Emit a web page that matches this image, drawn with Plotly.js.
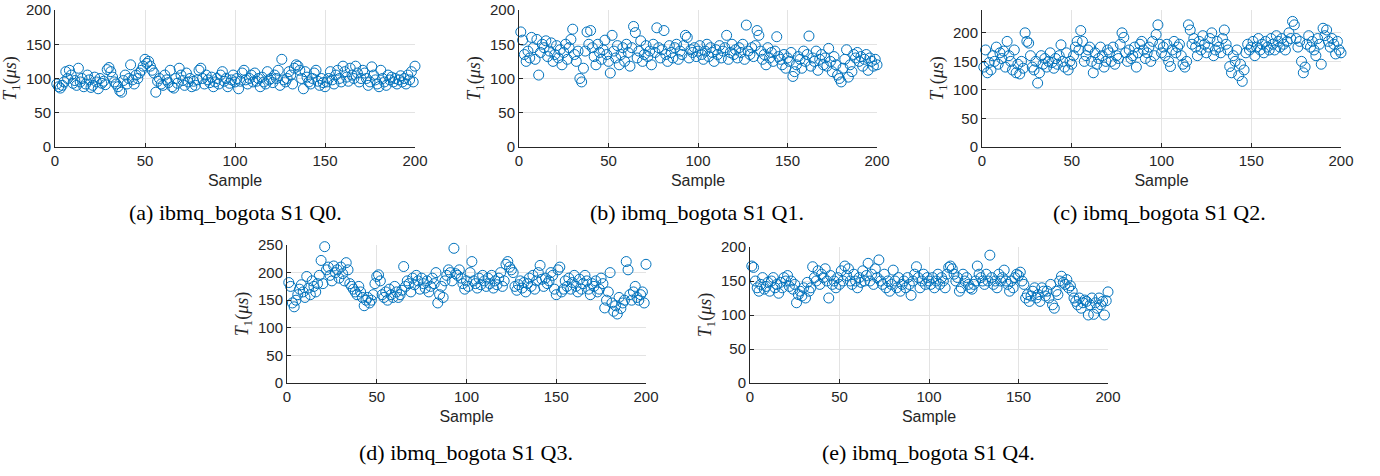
<!DOCTYPE html>
<html>
<head>
<meta charset="utf-8">
<script src="https://cdn.plot.ly/plotly-3.0.1.min.js"></script>
<style>html,body{margin:0;padding:0;background:#fff;}#chart{width:1380px;height:476px;}</style>
</head>
<body>
<div id="chart"></div>
<script>
// ---- data (T1 in microseconds, samples 1..200) ----
const q0 = [92,88,86,90,95,110,100,112,105,93, 97,90,115,95,100,88,92,105,98,87,
  90,102,95,85,100,93,96,91,113,116, 110,102,95,92,88,82,80,97,105,92,
  100,120,98,92,105,100,108,112,118,128, 122,125,118,112,108,80,96,100,92,90,
  105,98,94,112,88,86,100,93,115,105, 97,90,108,95,100,88,96,90,98,112,
  115,100,92,105,98,94,102,88,95,100, 92,105,110,96,100,88,93,98,105,95,
  100,85,96,108,112,98,92,100,105,95, 108,96,100,88,102,95,92,110,98,100,
  94,105,100,112,90,128,98,95,100,110, 105,92,115,120,118,112,100,85,110,102,
  95,92,100,108,112,96,90,100,94,88, 95,100,110,98,92,105,112,100,95,118,
  110,102,96,115,105,100,118,108,95,100, 112,108,100,90,95,117,105,98,92,88,
  112,100,95,90,105,98,102,95,100,92, 98,104,95,100,92,105,98,110,95,118];
const q1 = [168,156,135,125,140,130,160,145,128,157, 105,138,150,145,155,132,140,152,125,135,
  148,130,142,120,138,150,128,145,157,172, 135,125,140,100,95,115,140,168,150,170,
  145,132,120,150,138,128,142,156,135,125, 108,163,140,130,148,120,135,145,125,150,
  138,118,145,176,167,130,140,155,125,135, 148,132,140,120,150,138,174,145,130,142,
  170,135,125,148,138,130,145,150,128,140, 135,148,163,160,130,142,138,145,132,140,
  148,135,128,140,150,132,145,138,125,142, 135,148,130,140,145,163,128,138,150,135,
  142,130,145,138,150,128,178,140,135,145, 132,148,170,163,140,128,135,120,145,130,
  138,125,140,161,132,128,120,135,115,130, 125,138,103,110,120,132,128,115,140,125,
  135,162,118,130,125,140,112,128,135,120, 130,118,144,125,110,132,120,105,100,95,
  115,128,142,102,120,110,135,130,138,125, 132,118,128,135,112,130,125,118,128,120];
const q2 = [140,170,130,148,135,160,150,175,145,165, 155,168,140,185,160,150,135,170,130,145,
  128,150,138,200,185,182,160,140,135,150, 112,130,160,145,155,140,150,165,148,138,
  155,145,160,179,150,140,165,135,150,145, 160,175,185,170,204,185,150,160,170,175,
  150,130,165,145,155,175,160,140,150,170, 165,150,175,145,160,155,180,200,192,165,
  150,170,155,160,175,140,165,180,185,170, 155,165,175,150,185,160,197,214,180,165,
  175,160,180,150,141,170,185,165,175,180, 160,145,140,150,214,205,180,190,175,160,
  185,170,195,180,165,175,190,200,160,170, 185,175,165,190,205,180,170,141,130,160,
  150,170,125,145,115,135,165,180,170,175, 185,160,175,190,170,180,165,185,175,170,
  190,180,170,195,185,175,190,180,170,185, 200,190,220,214,190,175,185,150,130,140,
  180,195,175,185,170,160,190,180,145,208, 195,205,185,175,190,180,163,185,170,165];
const q3 = [182,175,145,138,150,160,170,178,165,155, 193,172,160,185,175,165,180,195,222,180,
  247,205,210,195,185,212,200,205,190,210, 198,185,218,205,180,175,170,165,160,175,
  165,155,140,150,155,145,150,160,180,193, 196,185,160,155,165,150,170,160,155,175,
  165,155,160,168,211,175,185,180,165,190, 178,195,185,170,190,180,172,185,165,175,
  190,180,200,145,160,175,155,185,195,205, 200,185,244,198,195,205,190,180,170,185,
  175,200,220,185,180,172,190,178,195,185, 175,190,180,195,172,185,178,190,200,175,
  185,215,220,210,205,200,175,168,178,185, 172,182,165,180,190,175,195,170,185,200,
  213,188,175,190,180,185,200,195,170,160, 205,210,165,170,185,175,190,170,182,195,
  175,165,188,170,180,195,185,170,160,180, 175,185,165,170,190,180,136,150,165,200,
  145,130,140,125,155,135,145,150,220,205, 160,150,165,175,155,150,160,165,145,215];
const q4 = [172,170,150,140,135,145,155,138,142,148, 135,150,155,140,145,132,148,140,155,150,
  158,142,150,138,145,118,130,135,128,140, 125,148,135,140,171,155,150,165,145,160,
  155,168,150,125,158,145,150,140,155,145, 165,150,172,158,168,150,145,160,150,140,
  155,148,165,150,158,176,150,160,145,168, 155,181,150,145,160,140,150,135,145,166,
  150,140,155,135,145,150,140,155,145,129, 150,160,171,155,140,150,160,145,155,150,
  145,155,140,150,160,145,155,150,140,160, 170,172,168,160,150,155,135,140,160,150,
  155,145,140,138,145,150,172,160,155,150, 145,160,150,188,155,145,150,140,160,150,
  155,166,150,145,135,150,140,155,160,158, 163,150,145,125,130,120,128,135,140,125,
  130,120,140,135,128,135,125,145,115,110, 135,130,150,157,148,145,152,140,143,135,
  125,120,115,125,110,118,122,120,100,115, 125,101,118,110,125,115,120,100,121,134];
const series = [q0, q1, q2, q3, q4];
const captions = ['(a) ibmq_bogota S1 Q0.', '(b) ibmq_bogota S1 Q1.', '(c) ibmq_bogota S1 Q2.',
                  '(d) ibmq_bogota S1 Q3.', '(e) ibmq_bogota S1 Q4.'];
const yRanges = [[0,200],[0,200],[0,240],[0,250],[0,200]];
const xTicks = [0,50,100,150,200];

// ---- layout geometry (pixels) ----
const W = 1380, H = 476;
const boxes = [ // [left, right, top, bottom]
  [55, 415, 10, 147],
  [519, 877, 10, 147],
  [982, 1341, 10, 147],
  [287, 646, 245, 383],
  [750, 1108, 247, 383]
];
const capPos = [[235,213],[697,213],[1159,213],[466,452],[928,452]];

const sans = 'Liberation Sans, Arial, Helvetica, sans-serif';
const serif = 'Liberation Serif, Times New Roman, serif';
const dark = '#262626';

const traces = [];
const layout = {
  width: W, height: H,
  margin: {l:0, r:0, t:0, b:0},
  paper_bgcolor: '#fff', plot_bgcolor: '#fff',
  showlegend: false,
  annotations: []
};

series.forEach((vals, i) => {
  const n = i + 1;
  const xs = vals.map((v, k) => k + 1);
  traces.push({
    type: 'scatter', mode: 'markers',
    x: xs, y: vals,
    xaxis: 'x' + (n === 1 ? '' : n), yaxis: 'y' + (n === 1 ? '' : n),
    marker: {symbol: 'circle-open', size: 10, color: '#0072BD', line: {width: 1, color: '#0072BD'}},
    cliponaxis: false,
    hoverinfo: 'x+y'
  });
  const b = boxes[i];
  const axBase = {
    showline: true, linecolor: dark, linewidth: 1,
    ticks: 'inside', ticklen: 4, tickcolor: dark, tickwidth: 1,
    showgrid: true, gridcolor: '#e3e3e3', gridwidth: 1,
    zeroline: false, mirror: false,
    tickfont: {family: sans, size: 15, color: dark},
    automargin: false
  };
  const xk = 'xaxis' + (n === 1 ? '' : n), yk = 'yaxis' + (n === 1 ? '' : n);
  layout[xk] = Object.assign({}, axBase, {
    domain: [b[0]/W, b[1]/W], range: [0, 200], tickvals: xTicks,
    anchor: 'y' + (n === 1 ? '' : n),
    title: {text: 'Sample', font: {family: sans, size: 16, color: dark}, standoff: 6}
  });
  const yr = yRanges[i];
  const yt = [];
  for (let v = 0; v <= yr[1]; v += 50) yt.push(v);
  layout[yk] = Object.assign({}, axBase, {
    domain: [1 - b[3]/H, 1 - b[2]/H], range: yr, tickvals: yt,
    anchor: 'x' + (n === 1 ? '' : n),
    title: {text: '<i>T</i><sub>1</sub>(<i>μs</i>)', font: {family: serif, size: 18, color: dark}, standoff: 4}
  });
  layout.annotations.push({
    xref: 'paper', yref: 'paper',
    x: capPos[i][0]/W, y: 1 - capPos[i][1]/H,
    xanchor: 'center', yanchor: 'middle', showarrow: false,
    text: captions[i], font: {family: serif, size: 22, color: '#000'}
  });
});

Plotly.newPlot('chart', traces, layout, {displayModeBar: false, staticPlot: true});
</script>
</body>
</html>
